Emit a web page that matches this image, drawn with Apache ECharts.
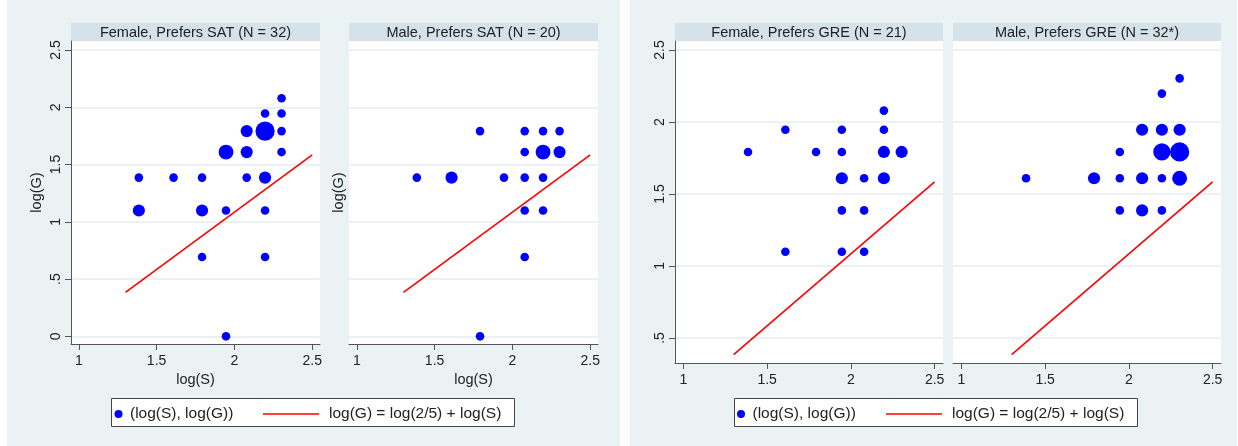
<!DOCTYPE html>
<html lang="en">
<head>
    <meta charset="UTF-8">
    <title>log(G) vs log(S)</title>
    <style>
        html, body { margin: 0; padding: 0; background: #fff; }
    </style>
</head>
<body>
<div id="main" style="width: 1238px;height: 446px;"></div>
<script src="https://cdn.jsdelivr.net/npm/echarts@6/dist/echarts.min.js"></script>
<script>
    /* panel titles */
    var titles = ['Female, Prefers SAT (N = 32)', 'Male, Prefers SAT (N = 20)',
                  'Female, Prefers GRE (N = 21)', 'Male, Prefers GRE (N = 32*)'];
    var ptName = '(log(S), log(G))';
    var lineName = 'log(G) = log(2/5) + log(S)';

    /* log(S), log(G), number of cases at that point */
    var fSatS = [1.386, 1.609, 1.792, 2.079, 2.197, 1.386, 1.792, 1.946, 2.197, 1.946, 2.079, 2.303, 2.079, 2.197, 2.303, 2.197, 2.303, 2.303, 1.792, 2.197, 1.946];
    var fSatG = [1.386, 1.386, 1.386, 1.386, 1.386, 1.099, 1.099, 1.099, 1.099, 1.609, 1.609, 1.609, 1.792, 1.792, 1.792, 1.946, 1.946, 2.079, 0.693, 0.693, 0];
    var fSatN = [1, 1, 1, 1, 2, 2, 2, 1, 1, 3, 2, 1, 2, 5, 1, 1, 1, 1, 1, 1, 1];

    var mSatS = [1.792, 2.079, 2.197, 2.303, 2.079, 2.197, 2.303, 1.386, 1.609, 1.946, 2.079, 2.197, 2.079, 2.197, 2.079, 1.792];
    var mSatG = [1.792, 1.792, 1.792, 1.792, 1.609, 1.609, 1.609, 1.386, 1.386, 1.386, 1.386, 1.386, 1.099, 1.099, 0.693, 0];
    var mSatN = [1, 1, 1, 1, 1, 3, 2, 1, 2, 1, 1, 1, 1, 1, 1, 1];

    var fGreS = [1.386, 1.609, 1.792, 1.946, 1.946, 1.946, 2.079, 2.197, 2.197, 2.303, 2.197, 2.197, 1.946, 2.079, 1.609, 1.946, 2.079];
    var fGreG = [1.792, 1.946, 1.792, 1.946, 1.792, 1.609, 1.609, 1.609, 1.792, 1.792, 1.946, 2.079, 1.386, 1.386, 1.099, 1.099, 1.099];
    var fGreN = [1, 1, 1, 1, 1, 2, 1, 2, 2, 2, 1, 1, 1, 1, 1, 1, 1];

    var mGreS = [2.303, 2.197, 2.079, 2.197, 2.303, 1.946, 2.197, 2.303, 1.386, 1.792, 1.946, 2.079, 2.197, 2.303, 1.946, 2.079, 2.197];
    var mGreG = [2.303, 2.197, 1.946, 1.946, 1.946, 1.792, 1.792, 1.792, 1.609, 1.609, 1.609, 1.609, 1.609, 1.609, 1.386, 1.386, 1.386];
    var mGreN = [1, 1, 2, 2, 2, 1, 4, 5, 1, 2, 1, 2, 1, 3, 1, 2, 1];

    /* reference line end points */
    var lineS = [1.3, 2.5];
    var lineG = [0.384, 1.584];

    /* tick labels */
    var xTicks = [1, 1.5, 2, 2.5];
    var yTicksSat = [0, 0.5, 1, 1.5, 2, 2.5];
    var yTicksGre = [0.5, 1, 1.5, 2, 2.5];

    var FONT = "'Liberation Sans', Arial, sans-serif";
    var TXT = '#222';
    var AX = '#555';

    function pts(s, g, n) {
        return s.map(function (v, i) { return [v, g[i], n[i]]; });
    }
    function tickFmt(v) {
        return v === 0 ? '0' : String(v).replace(/^0\./, '.');
    }

    // plot areas [left, top, width, height]
    var boxes = [
        [71, 41, 249, 303],
        [349, 41, 249, 303],
        [675, 41, 268, 322],
        [953, 41, 268, 322]
    ];

    var chart = echarts.init(document.getElementById('main'));

    var grids = [], xAxes = [], yAxes = [], series = [], graphic = [];

    // panel backgrounds
    graphic.push({type: 'rect', shape: {x: 7, y: 0, width: 613, height: 446}, style: {fill: '#EAF2F3'}, z: -10});
    graphic.push({type: 'rect', shape: {x: 630, y: 0, width: 607, height: 446}, style: {fill: '#EAF2F3'}, z: -10});

    var allData = [pts(fSatS, fSatG, fSatN), pts(mSatS, mSatG, mSatN), pts(fGreS, fGreG, fGreN), pts(mGreS, mGreG, mGreN)];

    boxes.forEach(function (b, i) {
        var sat = i < 2;
        var first = (i % 2 === 0);
        grids.push({left: b[0], top: b[1], width: b[2], height: b[3], show: true, backgroundColor: '#fff', borderWidth: 0});

        // strip header
        graphic.push({type: 'rect', shape: {x: b[0], y: 23, width: b[2], height: 18}, style: {fill: '#D6E2E9'}, z: -5});
        graphic.push({type: 'text', x: b[0] + b[2] / 2, y: 32.5, z: -4,
            style: {text: titles[i], align: 'center', verticalAlign: 'middle', font: '14.5px ' + FONT, fill: TXT}});

        xAxes.push({
            gridIndex: i, type: 'value', min: 0.95, max: 2.55,
            name: sat ? 'log(S)' : '', nameLocation: 'middle', nameGap: 26,
            nameTextStyle: {fontSize: 14.5, color: TXT, fontFamily: FONT},
            axisLine: {show: true, onZero: false, lineStyle: {color: AX, width: 1}},
            axisTick: {show: true, length: 6, customValues: xTicks, lineStyle: {color: AX}},
            axisLabel: {customValues: xTicks, formatter: tickFmt, fontSize: 14, color: TXT, fontFamily: FONT, margin: 10},
            splitLine: {show: false}
        });

        var yt = sat ? yTicksSat : yTicksGre;
        yAxes.push({
            gridIndex: i, type: 'value',
            min: sat ? -0.067 : 0.326, max: sat ? 2.579 : 2.5625,
            name: sat ? 'log(G)' : '', nameLocation: 'middle', nameGap: first ? 26.5 : 3,
            nameTextStyle: {fontSize: 14.5, color: TXT, fontFamily: FONT},
            axisLine: {show: first, onZero: false, lineStyle: {color: AX, width: 1}},
            axisTick: {show: first, length: 6, customValues: yt, lineStyle: {color: AX}},
            axisLabel: {show: first, customValues: yt, formatter: tickFmt, rotate: 90, fontSize: 14, color: TXT, fontFamily: FONT, margin: 8},
            splitLine: {show: true, lineStyle: {color: '#E4EDF0', width: 1.5}}
        });

        series.push({
            name: ptName, type: 'scatter', xAxisIndex: i, yAxisIndex: i,
            data: allData[i],
            symbolSize: function (d) { return 8.6 * Math.sqrt(d[2]); },
            itemStyle: {color: '#0000FF', opacity: 1},
            z: 3
        });
        series.push({
            name: lineName, type: 'line', xAxisIndex: i, yAxisIndex: i,
            data: lineS.map(function (v, k) { return [v, lineG[k]]; }),
            symbol: 'none',
            lineStyle: {color: '#FF0000', width: 1.6},
            itemStyle: {color: '#FF0000'},
            z: 4
        });
    });

    // legend boxes
    graphic.push({type: 'rect', shape: {x: 111.5, y: 398.5, width: 403, height: 28}, style: {fill: '#fff', stroke: '#444', lineWidth: 1}, z: -5});
    graphic.push({type: 'rect', shape: {x: 734.5, y: 398.5, width: 403, height: 28}, style: {fill: '#fff', stroke: '#444', lineWidth: 1}, z: -5});

    var legTxt = {fontSize: 15.5, color: TXT, fontFamily: FONT};
    var legTxtPad = {fontSize: 15.5, color: TXT, fontFamily: FONT, padding: [0, 0, 0, 5]};
    var lineItem = {name: lineName, icon: 'rect', itemStyle: {color: '#FF0000'}};
    var legends = [
        {left: 114.5, top: 406, itemWidth: 13, itemHeight: 8, padding: 0, selectedMode: false, data: [ptName], textStyle: legTxt},
        {left: 263, top: 406, itemWidth: 56, itemHeight: 1.6, padding: 0, selectedMode: false, data: [lineItem], textStyle: legTxtPad},
        {left: 737, top: 406, itemWidth: 13, itemHeight: 8, padding: 0, selectedMode: false, data: [ptName], textStyle: legTxt},
        {left: 886, top: 406, itemWidth: 56, itemHeight: 1.6, padding: 0, selectedMode: false, data: [lineItem], textStyle: legTxtPad}
    ];

    var option = {
        backgroundColor: '#fff',
        animation: false,
        textStyle: {fontFamily: FONT},
        graphic: graphic,
        legend: legends,
        grid: grids,
        xAxis: xAxes,
        yAxis: yAxes,
        series: series
    };
    chart.setOption(option);
</script>
</body>
</html>
